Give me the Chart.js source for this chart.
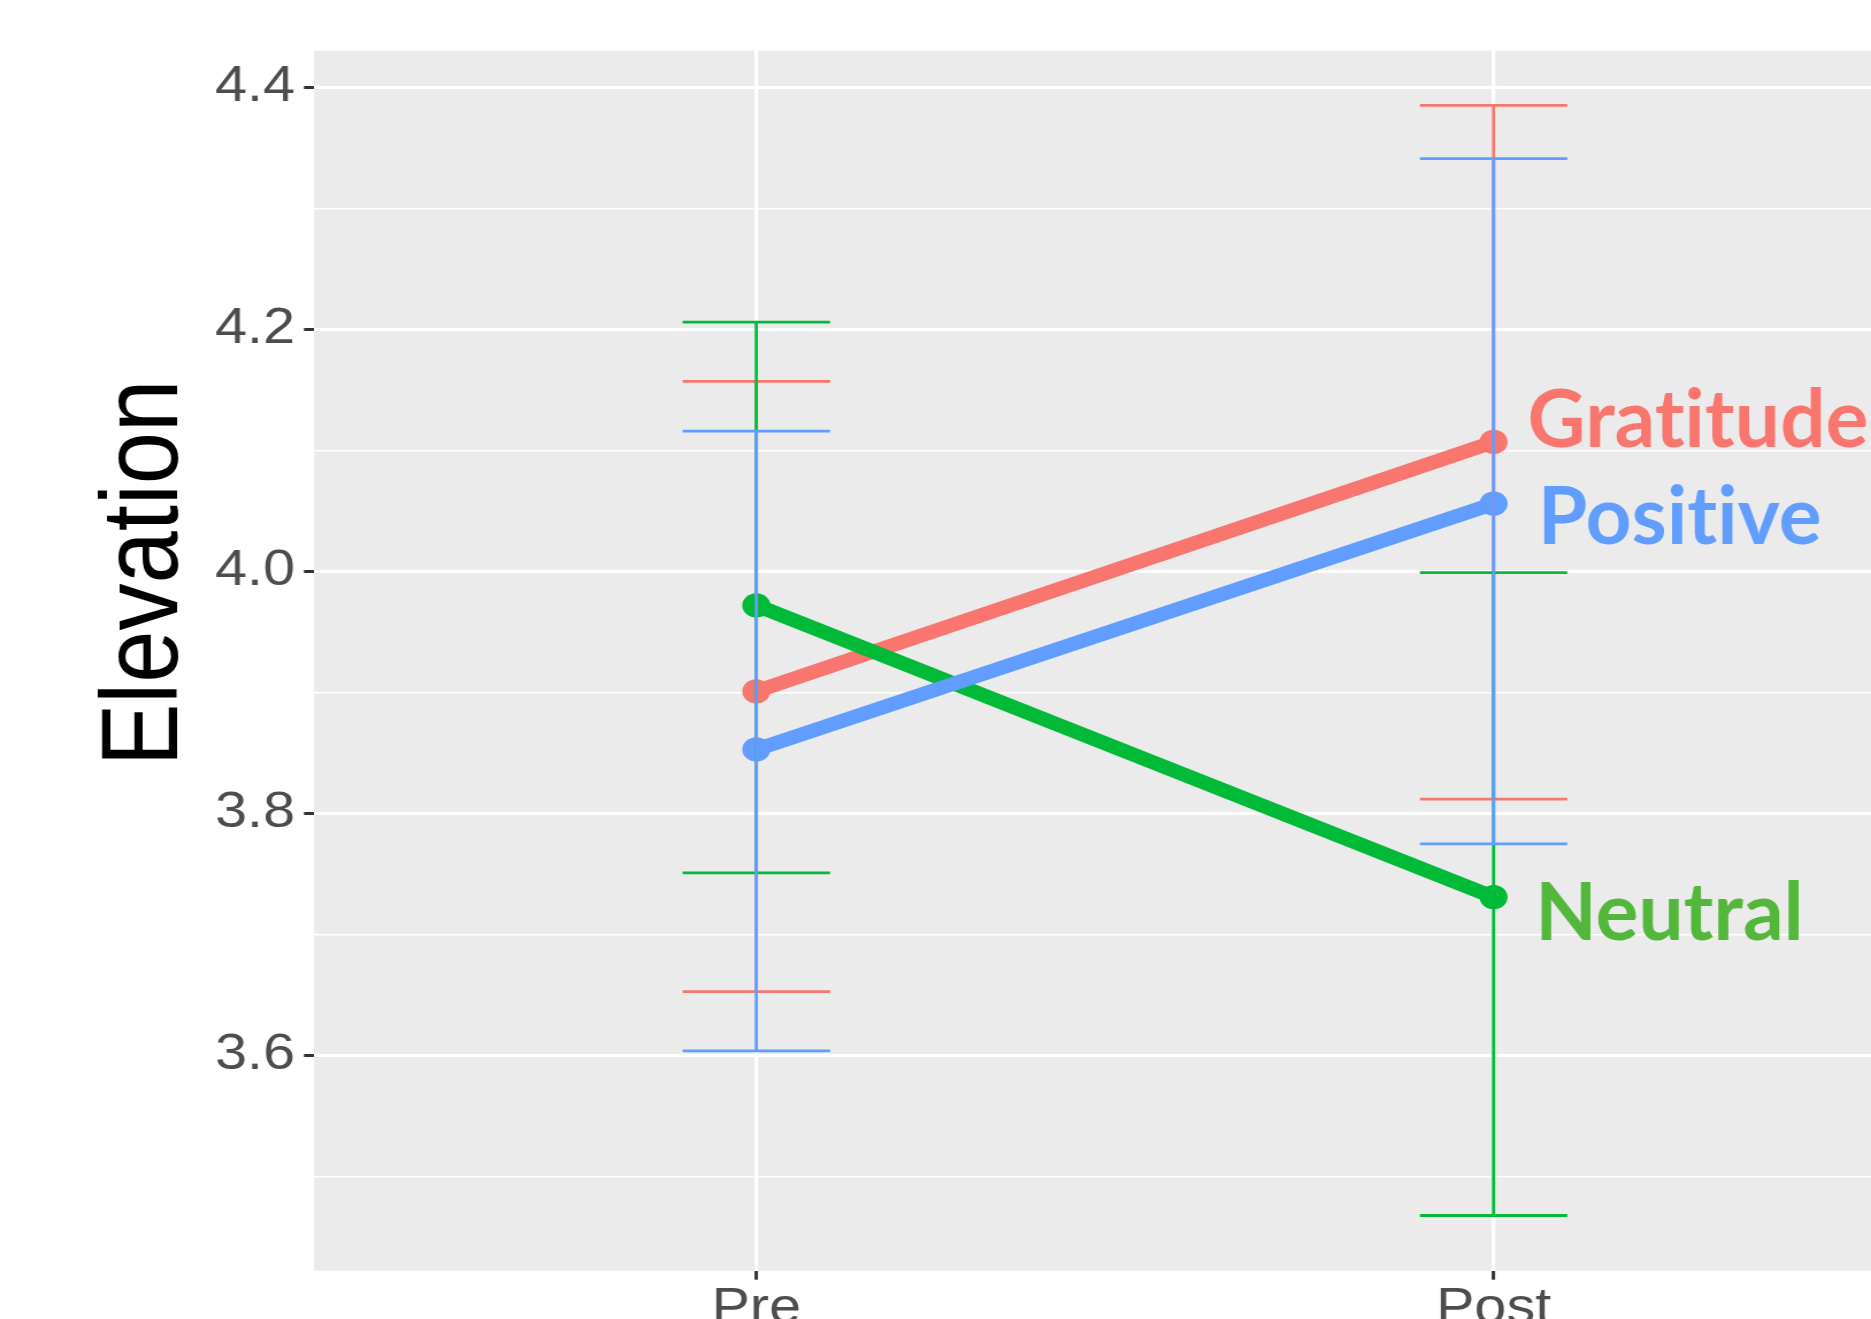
<!DOCTYPE html>
<html>
<head>
<meta charset="utf-8">
<script src="https://cdn.jsdelivr.net/npm/chart.js@4.4.1/dist/chart.umd.min.js"></script>
<style>
  html, body { margin: 0; padding: 0; background: #fff; overflow: hidden; }
  /* the source image is stretched sideways, so the chart is drawn narrower and scaled up */
  #wrap { width: 1627px; height: 1319px; transform: scaleX(1.15); transform-origin: 0 0; }
</style>
</head>
<body>
<div id="wrap"><canvas id="chart"></canvas></div>
<script>
// --- DATA ---
const categories = ['Pre', 'Post'];
const groups = ['Gratitude', 'Neutral', 'Positive'];

const gratitudeMean = [3.901, 4.107];
const neutralMean = [3.972, 3.731];
const positiveMean = [3.853, 4.056];

const gratitudeLow = [3.653, 3.812];
const gratitudeHigh = [4.157, 4.385];
const neutralLow = [3.751, 3.468];
const neutralHigh = [4.206, 3.999];
const positiveLow = [3.604, 3.775];
const positiveHigh = [4.116, 4.341];

const yMajorTicks = [3.6, 3.8, 4.0, 4.2, 4.4];
const yMinorTicks = [3.5, 3.7, 3.9, 4.1, 4.3];

// --- STYLE ---
const STRETCH = 1.15;
const colors = ['#F8766D', '#00BA38', '#619CFF'];
const labelColors = ['#F8766D', '#53B73C', '#619CFF'];
const labelDx = [34, 41.6, 44.3]; // screen px right of the Post point
const labelDy = [5, 43, 40];
const capHalf = 0.1;

const means = [gratitudeMean, neutralMean, positiveMean];
const lows = [gratitudeLow, neutralLow, positiveLow];
const highs = [gratitudeHigh, neutralHigh, positiveHigh];

const isMajor = (v) => yMajorTicks.some((m) => Math.abs(m - v) < 1e-6);

function errorBarPoints(lo, hi) {
    const pts = [];
    lo.forEach((l, i) => {
        const x = i + 1;
        const h = hi[i];
        pts.push(
            { x: x - capHalf, y: h }, { x: x + capHalf, y: h }, { x, y: null },
            { x, y: h }, { x, y: l }, { x, y: null },
            { x: x - capHalf, y: l }, { x: x + capHalf, y: l }, { x, y: null }
        );
    });
    return pts;
}

const datasets = [];
groups.forEach((g, i) => {
    datasets.push({
        label: g,
        data: means[i].map((v, j) => ({ x: j + 1, y: v })),
        borderColor: colors[i],
        backgroundColor: colors[i],
        borderWidth: 14,
        pointRadius: 12.2,
        pointBorderWidth: 0,
        pointBackgroundColor: colors[i],
        order: 6 - i,
    });
});
groups.forEach((g, i) => {
    datasets.push({
        label: g + ' CI',
        data: errorBarPoints(lows[i], highs[i]),
        borderColor: colors[i],
        borderWidth: 2.8,
        pointRadius: 0,
        spanGaps: false,
        order: 3 - i,
    });
});

const panelBg = {
    id: 'panelBg',
    beforeDraw(chart) {
        const { ctx, chartArea } = chart;
        ctx.save();
        ctx.fillStyle = '#EBEBEB';
        ctx.fillRect(chartArea.left, chartArea.top, chartArea.width, chartArea.height);
        ctx.restore();
    },
};

// group names at the line ends, drawn unstretched
const groupLabels = {
    id: 'groupLabels',
    afterDatasetsDraw(chart) {
        const { ctx, scales } = chart;
        ctx.save();
        ctx.scale(1 / STRETCH, 1);
        ctx.font = 'bold 80px Lato';
        ctx.letterSpacing = '0.1px';
        ctx.textAlign = 'left';
        ctx.textBaseline = 'alphabetic';
        groups.forEach((g, i) => {
            const last = means[i].length;
            const x = scales.x.getPixelForValue(last) * STRETCH + labelDx[i];
            const y = scales.y.getPixelForValue(means[i][last - 1]) + labelDy[i];
            ctx.fillStyle = labelColors[i];
            ctx.fillText(g, x, y);
        });
        ctx.restore();
    },
};

const yTitle = {
    id: 'yTitle',
    afterDraw(chart) {
        const { ctx } = chart;
        ctx.save();
        ctx.translate(153.6, 573);
        ctx.rotate(-Math.PI / 2);
        ctx.font = '94px "Liberation Sans"';
        ctx.fillStyle = '#000000';
        ctx.textAlign = 'center';
        ctx.textBaseline = 'alphabetic';
        ctx.fillText('Elevation', 0, 0);
        ctx.restore();
    },
};

new Chart(document.getElementById('chart'), {
    type: 'line',
    data: { datasets },
    options: {
        responsive: true,
        maintainAspectRatio: false,
        animation: false,
        layout: { autoPadding: false, padding: { top: 50.7, left: 0, right: 0, bottom: 0 } },
        plugins: {
            legend: { display: false },
            tooltip: { enabled: false },
        },
        scales: {
            x: {
                type: 'linear',
                min: 0.4,
                max: 2.512,
                afterBuildTicks: (scale) => {
                    scale.ticks = categories.map((c, i) => ({ value: i + 1 }));
                },
                afterFit: (scale) => {
                    scale.height = 48.3;
                },
                border: { display: false },
                grid: {
                    color: '#FFFFFF',
                    lineWidth: 3.2,
                    tickColor: '#333333',
                    tickWidth: 3,
                    tickLength: 9,
                },
                ticks: {
                    callback: (v, i) => categories[i],
                    color: '#4D4D4D',
                    font: { family: 'Liberation Sans', size: 50, lineHeight: 1 },
                    padding: 5,
                    maxRotation: 0,
                    autoSkip: false,
                },
            },
            y: {
                min: 3.4224,
                max: 4.4302,
                afterBuildTicks: (scale) => {
                    scale.ticks = [...yMinorTicks, ...yMajorTicks]
                        .sort((a, b) => a - b)
                        .map((v) => ({ value: v }));
                },
                afterFit: (scale) => {
                    scale.width = 273;
                },
                border: { display: false },
                grid: {
                    color: '#FFFFFF',
                    lineWidth: (ctx) => (isMajor(ctx.tick.value) ? 3 : 1.6),
                    tickColor: (ctx) => (isMajor(ctx.tick.value) ? '#333333' : 'rgba(0,0,0,0)'),
                    tickWidth: 3,
                    tickLength: 8.7,
                },
                ticks: {
                    callback: (v) => (isMajor(v) ? v.toFixed(1) : ''),
                    color: '#4D4D4D',
                    font: { family: 'Liberation Sans', size: 50, lineHeight: 1 },
                    padding: 7.8,
                    autoSkip: false,
                },
            },
        },
    },
    plugins: [panelBg, groupLabels, yTitle],
});
</script>
</body>
</html>
